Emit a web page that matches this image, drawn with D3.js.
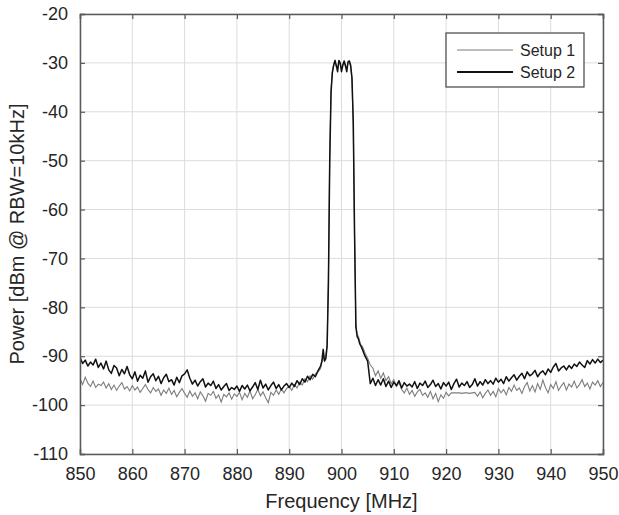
<!DOCTYPE html>
<html><head><meta charset="utf-8">
<script src="https://cdn.jsdelivr.net/npm/d3@7"></script>
<style>body{margin:0;background:#fff}svg{display:block}text{font-family:"Liberation Sans",Arial,sans-serif}</style>
</head><body>
<svg id="c" width="619" height="515"></svg>
<script>
// Frequency sampling (MHz): coarse on the skirts, finer across the channel
const freqLow = d3.range(850, 895.75, 0.5);   // 850 .. 895.5
const freqPeak = d3.range(896, 903.875, 0.25); // 896 .. 903.75
const freqHigh = d3.range(904, 950.25, 0.5);   // 904 .. 950

const setup1Low = [
 -94.6,-95.8,-94.3,-95.5,-96.2,-95.1,-96.4,-95.7,-96.0,-95.3,
 -96.5,-95.6,-96.8,-95.9,-97.0,-96.1,-95.4,-96.7,-96.2,-97.1,
 -96.0,-96.9,-96.3,-97.4,-96.6,-95.8,-96.8,-97.5,-96.4,-97.2,
 -96.7,-98.0,-96.9,-97.6,-96.5,-97.8,-97.0,-98.3,-97.4,-96.6,
 -97.6,-98.4,-97.1,-98.2,-97.5,-98.7,-97.3,-98.1,-99.2,-97.6,
 -98.0,-97.2,-98.6,-97.9,-99.4,-97.8,-98.3,-97.5,-98.8,-97.7,
 -98.2,-97.4,-98.9,-97.6,-98.4,-97.1,-98.7,-97.9,-96.8,-98.1,
 -97.3,-98.5,-99.5,-97.4,-98.0,-96.9,-97.8,-96.7,-97.5,-96.6,
 -96.2,-97.0,-95.8,-96.5,-95.3,-95.9,-94.6,-95.2,-94.0,-94.7,
 -93.6,-93.2];
const setup1Peak = [
 -92.5,-91.2,-90.0,-90.8,-89.8,-87.5,-74.0,-49.0,-35.5,-31.8,
 -30.3,-29.6,-30.8,-31.2,-29.7,-30.2,-31.2,-30.3,-29.8,-30.8,
 -31.2,-29.9,-29.7,-30.8,-33.5,-43.0,-66.0,-83.5,-85.5,-86.0,
 -87.0,-87.8];
const setup1High = [
 -88.0,-89.4,-90.4,-91.8,-92.4,-94.0,-93.0,-94.5,-93.4,-95.0,
 -94.2,-95.6,-94.8,-96.2,-95.4,-96.8,-97.5,-96.5,-97.8,-97.0,
 -98.2,-97.3,-96.8,-98.0,-97.5,-98.4,-97.2,-98.7,-97.6,-99.3,
 -97.9,-98.6,-97.4,-98.1,-97.5,-97.5,-97.5,-97.5,-97.6,-97.5,
 -97.5,-97.6,-97.5,-97.4,-98.2,-97.3,-98.5,-97.6,-96.9,-98.0,
 -97.2,-98.3,-96.6,-97.5,-96.8,-97.9,-96.4,-97.2,-95.9,-97.0,
 -96.5,-97.6,-96.2,-95.4,-97.1,-96.0,-97.3,-95.6,-96.8,-94.9,
 -96.4,-97.5,-95.8,-96.6,-95.2,-97.0,-96.1,-95.4,-96.9,-95.7,
 -96.3,-95.1,-96.5,-95.8,-94.8,-96.2,-95.5,-96.7,-95.3,-95.9,
 -95.0,-96.2,-95.4];

const setup2Low = [
 -90.2,-91.5,-90.8,-92.0,-91.2,-91.8,-90.6,-92.3,-91.4,-92.6,
 -91.0,-92.8,-93.5,-91.9,-92.4,-94.0,-92.7,-93.6,-92.1,-93.8,
 -94.6,-93.2,-95.1,-93.9,-94.5,-93.0,-95.3,-94.2,-93.6,-95.0,
 -94.1,-95.6,-94.4,-93.7,-95.2,-94.8,-95.9,-94.3,-95.4,-94.0,
 -93.6,-92.8,-94.5,-95.7,-94.9,-96.1,-95.2,-94.6,-96.3,-95.5,
 -96.0,-95.1,-96.6,-95.8,-96.9,-96.2,-95.6,-97.0,-96.4,-96.8,
 -96.1,-97.2,-96.0,-96.7,-95.9,-97.1,-96.3,-95.4,-96.8,-94.9,
 -96.5,-95.7,-96.9,-96.0,-95.3,-96.6,-95.8,-96.9,-96.1,-95.6,
 -96.4,-95.5,-96.2,-95.0,-95.8,-94.6,-95.3,-94.1,-94.8,-93.7,
 -94.2,-93.0];
const setup2Peak = [
 -92.0,-91.0,-88.6,-91.0,-90.5,-88.0,-75.0,-50.0,-36.0,-32.0,
 -30.5,-29.5,-30.5,-31.8,-29.5,-30.0,-31.8,-30.5,-29.6,-30.5,
 -31.8,-29.8,-29.6,-30.5,-33.0,-42.0,-65.0,-84.0,-86.0,-86.5,
 -87.5,-88.0];
const setup2High = [
 -88.6,-90.0,-91.0,-95.6,-94.5,-96.0,-94.8,-95.9,-94.6,-96.2,
 -95.1,-96.4,-95.3,-96.0,-95.0,-96.5,-95.4,-96.1,-95.7,-96.3,
 -95.2,-96.6,-95.5,-96.0,-95.1,-96.4,-95.8,-94.9,-96.2,-95.6,
 -96.7,-95.4,-96.1,-95.3,-96.8,-95.6,-94.7,-96.3,-95.5,-96.0,
 -95.2,-96.4,-95.8,-94.6,-96.1,-95.2,-95.9,-94.8,-95.6,-95.0,
 -95.7,-94.5,-95.3,-94.7,-95.6,-94.2,-95.1,-94.4,-93.8,-94.9,
 -94.1,-93.5,-94.6,-93.2,-94.0,-93.6,-92.9,-94.2,-93.4,-93.0,
 -93.8,-92.6,-93.3,-92.2,-91.5,-93.0,-92.4,-92.0,-92.8,-91.9,
 -92.5,-91.6,-92.1,-91.2,-91.8,-92.3,-90.9,-91.6,-90.7,-91.4,
 -90.6,-91.3,-90.8];

const xTicks = [850,860,870,880,890,900,910,920,930,940,950];
const yTicks = [-110,-100,-90,-80,-70,-60,-50,-40,-30,-20];
const seriesNames = ["Setup 1","Setup 2"];
const xTitle = "Frequency [MHz]";
const yTitle = "Power [dBm @ RBW=10kHz]";

const freqs = freqLow.concat(freqPeak, freqHigh);
const s1 = setup1Low.concat(setup1Peak, setup1High);
const s2 = setup2Low.concat(setup2Peak, setup2High);

const L = 80, R = 603, T = 14, B = 454;
const svg = d3.select("#c");
const x = d3.scaleLinear().domain([850, 950]).range([L, R]);
const y = d3.scaleLinear().domain([-110, -20]).range([B, T]);

const axisCol = "#5a5a5a", textCol = "#262626";

// grid
const g = svg.append("g");
g.selectAll(".vg").data(xTicks).join("line")
  .attr("x1", d => x(d)).attr("x2", d => x(d)).attr("y1", T).attr("y2", B)
  .attr("stroke", "#dcdcdc").attr("stroke-width", 1);
g.selectAll(".hg").data(yTicks).join("line")
  .attr("y1", d => y(d)).attr("y2", d => y(d)).attr("x1", L).attr("x2", R)
  .attr("stroke", "#dcdcdc").attr("stroke-width", 1);

// lines
const line = d3.line().x((d, i) => x(freqs[i])).y(d => y(d));
svg.append("clipPath").attr("id", "cp").append("rect")
  .attr("x", L).attr("y", T).attr("width", R - L).attr("height", B - T);
svg.append("path").datum(s1).attr("d", line).attr("fill", "none")
  .attr("stroke", "#7d7d7d").attr("stroke-width", 1.1).attr("clip-path", "url(#cp)");
svg.append("path").datum(s2).attr("d", line).attr("fill", "none")
  .attr("stroke", "#111").attr("stroke-width", 1.5).attr("stroke-linejoin", "round")
  .attr("clip-path", "url(#cp)");

// axes (ticks inward)
const fmt = d => String(d);
const ax = svg.append("g").attr("transform", `translate(0,${B})`)
  .call(d3.axisBottom(x).tickValues(xTicks).tickSize(-5).tickPadding(13).tickFormat(fmt));
const ay = svg.append("g").attr("transform", `translate(${L},0)`)
  .call(d3.axisLeft(y).tickValues(yTicks).tickSize(-5).tickPadding(12).tickFormat(fmt));
const axt = svg.append("g").attr("transform", `translate(0,${T})`)
  .call(d3.axisTop(x).tickValues(xTicks).tickSize(-5).tickFormat(""));
const ayr = svg.append("g").attr("transform", `translate(${R},0)`)
  .call(d3.axisRight(y).tickValues(yTicks).tickSize(-5).tickFormat(""));
[ax, ay, axt, ayr].forEach(a => {
  a.selectAll(".domain").attr("stroke", axisCol).attr("stroke-width", 1.5);
  a.selectAll(".tick line").attr("stroke", axisCol).attr("stroke-width", 1.2);
  a.selectAll("text").attr("fill", textCol).style("font-size", "18px")
    .style("font-family", '"Liberation Sans", Arial, sans-serif');
});
ax.selectAll(".tick text").attr("dy", "0.71em");

svg.append("text").attr("x", (L + R) / 2).attr("y", 508).attr("text-anchor", "middle")
  .attr("fill", textCol).style("font-size", "20px").text(xTitle);
svg.append("text").attr("transform", `translate(24,${(T + B) / 2}) rotate(-90)`)
  .attr("text-anchor", "middle").attr("fill", textCol).style("font-size", "20px").text(yTitle);

// legend
const lg = svg.append("g");
lg.append("rect").attr("x", 446).attr("y", 33).attr("width", 138).attr("height", 54)
  .attr("fill", "#fff").attr("stroke", "#444").attr("stroke-width", 1.2);
const legCols = ["#7d7d7d", "#111"], legW = [1.1, 1.8];
seriesNames.forEach((n, i) => {
  const yy = 50 + i * 22;
  lg.append("line").attr("x1", 457).attr("x2", 513).attr("y1", yy).attr("y2", yy)
    .attr("stroke", legCols[i]).attr("stroke-width", legW[i]);
  lg.append("text").attr("x", 520).attr("y", yy).attr("dy", "0.35em")
    .attr("fill", textCol).style("font-size", "16px").text(n);
});
</script>
</body></html>
